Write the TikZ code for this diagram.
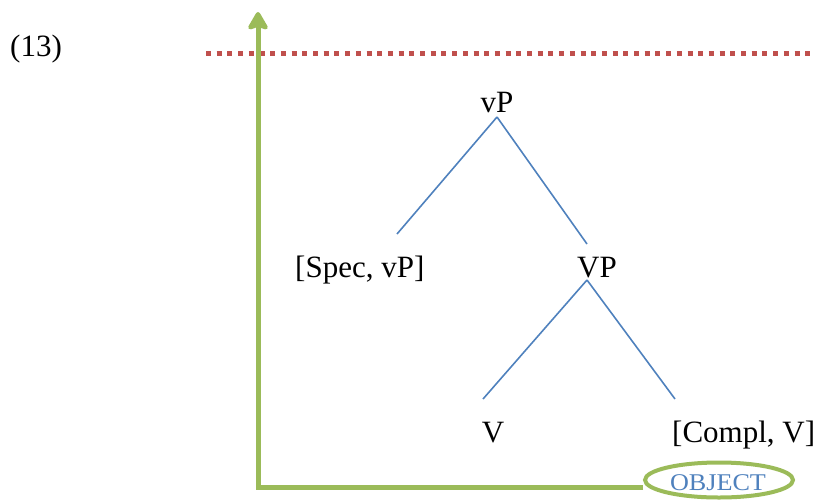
\documentclass[tikz,border=0pt]{standalone}
\usepackage{fontspec}
\setmainfont{Liberation Serif}
\usetikzlibrary{arrows.meta,shapes.geometric}
\definecolor{tblue}{HTML}{4F81BD}
\definecolor{tgreen}{HTML}{9BBB59}
\definecolor{tred}{HTML}{C0504D}
\begin{document}
\begin{tikzpicture}[x=1pt,y=1pt,
  lbl/.style={font=\fontsize{31}{36}\selectfont, inner sep=0, anchor=base},
  branch/.style={tblue, line width=1.6pt},
  moveline/.style={tgreen, line width=5pt},
  shade/.style={black, opacity=0.18, line width=5pt},
  dots/.style={line width=5pt, dash pattern=on 5pt off 5.7pt}]
\useasboundingbox (0,0) rectangle (819,-501);
% labels
\node[lbl, anchor=base west] (ex) at (10,-56) {(13)};
\node[lbl] (vP) at (497,-112) {vP};
\node[lbl, anchor=base west] (spec) at (295,-277) {[Spec, vP]};
\node[lbl] (VP) at (597,-277) {VP};
\node[lbl] (V) at (493,-442) {V};
\node[lbl, anchor=base west] (compl) at (672,-442) {[Compl, V]};
% branch end points
\coordinate (vPb) at (497,-117);
\coordinate (specT) at (397,-234);
\coordinate (VPt) at (587,-244);
\coordinate (VPb) at (587,-280);
\coordinate (Vt) at (483,-399);
\coordinate (complT) at (675,-399);
\draw[branch] (vPb) -- (specT);
\draw[branch] (vPb) -- (VPt);
\draw[branch] (VPb) -- (Vt);
\draw[branch] (VPb) -- (complT);
% dotted line
\coordinate (dl) at (206,-53);
\coordinate (dr) at (810,-53);
\draw[shade, dots, shift={(1.5,-2.5)}] (dl) -- (dr);
\draw[tred, dots] (dl) -- (dr);
% OBJECT ellipse
\node[ellipse, draw=tgreen, line width=4pt, minimum width=148, minimum height=35, inner sep=0] (obj) at (719,-480) {};
\node[inner sep=0, anchor=base, text=tblue, font=\fontsize{24}{28}\selectfont] (objtxt) at (718,-490) {\scalebox{1.09}[1]{OBJECT}};
% movement arrow
\coordinate (corner) at (258,-487);
\coordinate (top) at (258,-12);
\draw[shade, shift={(2,-3)}] (obj.west |- corner) -- (corner) -- ([yshift=-30]top);
\draw[moveline, -{Stealth[length=21pt, width=24pt, inset=4pt, round]}] (obj.west |- corner) -- (corner) -- (top);
\end{tikzpicture}
\end{document}
